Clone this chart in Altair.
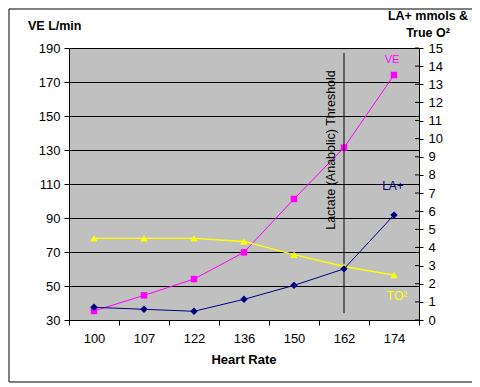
import altair as alt
import pandas as pd

hr = ["100", "107", "122", "136", "150", "162", "174"]
ve = [35.3, 44.5, 54.1, 69.8, 101.2, 131.4, 174.1]
la = [0.70, 0.59, 0.48, 1.14, 1.91, 2.82, 5.79]
to2 = [4.5, 4.5, 4.5, 4.33, 3.6, 2.95, 2.48]
left_ticks = list(range(30, 191, 20))
right_ticks = list(range(0, 16))
threshold = {"hr": ["162"], "top": [187], "bottom": [34]}

FONT = "Liberation Sans"
df = pd.DataFrame({"hr": hr, "ve": ve, "la": la, "to2": to2})

xscale = alt.Scale(type="band", paddingInner=0, paddingOuter=0)
xaxis = alt.Axis(title=None, tickBand="extent", tickSize=5, labelPadding=7,
                 labelAngle=0, labelOverlap=False,
                 domainColor="black", tickColor="black")
xenc = alt.X("hr:O", sort=hr, scale=xscale, axis=xaxis)

lscale = alt.Scale(domain=[30, 190], nice=False, zero=False)
laxis = alt.Axis(title=None, values=left_ticks, grid=True, gridColor="black",
                 gridOpacity=1, tickSize=5, labelPadding=4,
                 labelOverlap=False, labelFlush=False)

base = alt.Chart(df)
ve_line = base.mark_line(color="#FF00FF", strokeWidth=1).encode(
    x=xenc, y=alt.Y("ve:Q", scale=lscale, axis=laxis))
ve_pts = base.mark_point(shape="square", filled=True, size=42, color="#FF00FF", opacity=1).encode(
    x=xenc, y=alt.Y("ve:Q", scale=lscale, axis=laxis))

thr = alt.Chart(pd.DataFrame(threshold)).mark_rule(color="black", strokeWidth=1).encode(
    x=xenc, y=alt.Y("top:Q", scale=lscale, axis=laxis), y2="bottom:Q")

def label(txt, x, y, color="black", size=12, bold=False, angle=0, align="center"):
    return alt.Chart(pd.DataFrame({"t": [txt]})).mark_text(
        font=FONT, fontSize=size, fontWeight="bold" if bold else "normal",
        color=color, angle=angle, align=align, baseline="middle").encode(
        text="t:N", x=alt.value(x), y=alt.value(y))

border = alt.Chart(pd.DataFrame({"a": [0]})).mark_rect(
    fillOpacity=0, stroke="black", strokeWidth=1).encode(
    x=alt.value(-60), x2=alt.value(404), y=alt.value(-39), y2=alt.value(334))

left = alt.layer(
    ve_line, ve_pts, thr,
    label("Lactate (Anabolic) Threshold", 262, 102, angle=270, size=12.5),
    label("VE", 323, 12, color="#FF00FF", size=11),
    label("LA+", 324, 138, color="#000080", size=12),
    label("TO²", 328, 248, color="#FFFF00", size=12),
    label("VE L/min", -41, -22, bold=True, size=12.5, align="left"),
    label("LA+ mmols &", 359, -32, bold=True, size=12.5),
    label("True O²", 359, -15, bold=True, size=12.5),
    label("Heart Rate", 175, 312, bold=True, size=13),
    border,
)

rscale = alt.Scale(domain=[0, 15], nice=False, zero=True)
raxis = alt.Axis(title=None, orient="right", values=right_ticks, grid=False,
                 tickSize=4, labelPadding=5, labelOverlap=False, labelFlush=False)
la_line = base.mark_line(color="#000080", strokeWidth=1).encode(
    x=xenc, y=alt.Y("la:Q", scale=rscale, axis=raxis))
la_pts = base.mark_point(shape="diamond", filled=True, size=55, color="#000080", opacity=1).encode(
    x=xenc, y=alt.Y("la:Q", scale=rscale, axis=raxis))
to_line = base.mark_line(color="#FFFF00", strokeWidth=1.3).encode(
    x=xenc, y=alt.Y("to2:Q", scale=rscale, axis=raxis))
to_pts = base.mark_point(shape="triangle-up", filled=True, size=55, color="#FFFF00", opacity=1).encode(
    x=xenc, y=alt.Y("to2:Q", scale=rscale, axis=raxis))
inner_ticks = alt.Chart(pd.DataFrame({"v": right_ticks})).mark_rule(color="black", strokeWidth=1).encode(
    x=alt.value(346), x2=alt.value(350), y=alt.Y("v:Q", scale=rscale, axis=raxis))

right = alt.layer(to_line, to_pts, la_line, la_pts, inner_ticks)

chart = alt.layer(left, right).resolve_scale(y="independent").properties(
    width=350, height=272,
    autosize=alt.AutoSizeParams(type="none"),
    padding={"left": 61, "top": 40, "right": 53, "bottom": 63},
    background="white",
).configure_view(fill="#C0C0C0", stroke=None).configure_axis(
    labelFont=FONT, labelFontSize=13, labelColor="black",
    domainColor="black", tickColor="black", domainWidth=1, tickWidth=1,
)

chart.save("out.html", embed_options={"renderer": "svg", "actions": False})
